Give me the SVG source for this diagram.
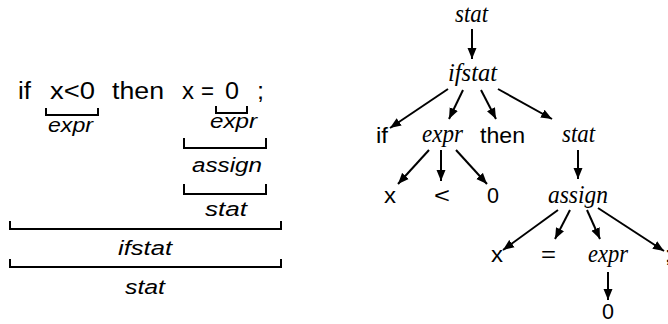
<svg xmlns="http://www.w3.org/2000/svg" width="668" height="324" viewBox="0 0 668 324">
<style>
.t{font-family:"Liberation Sans",Arial,sans-serif;font-size:23px;fill:#000}
.tr{font-family:"Liberation Sans",Arial,sans-serif;font-size:22px;fill:#000}
.lbl{font-family:"Liberation Sans",Arial,sans-serif;font-style:italic;font-size:20px;fill:#000}
.nt{font-family:"Liberation Serif","Times New Roman",serif;font-style:italic;font-size:25px;fill:#000}
.br{fill:none;stroke:#000;stroke-width:2}
.ed{fill:none;stroke:#000;stroke-width:2;marker-end:url(#ah)}
</style>
<defs>
<marker id="ah" markerUnits="userSpaceOnUse" markerWidth="12" markerHeight="10" refX="11" refY="5" orient="auto"><path d="M0,0.5 L11,5 L0,9.5 z" fill="#000"/></marker>
</defs>
<rect width="668" height="324" fill="#fff"/>
<g id="sentence">
<text class="t" x="18" y="99" textLength="13" lengthAdjust="spacingAndGlyphs">if</text>
<text class="t" x="50" y="99" textLength="45" lengthAdjust="spacingAndGlyphs">x&lt;0</text>
<text class="t" x="112" y="99" textLength="52" lengthAdjust="spacingAndGlyphs">then</text>
<text class="t" x="182" y="99" textLength="12" lengthAdjust="spacingAndGlyphs">x</text>
<text class="t" x="201" y="99" textLength="13" lengthAdjust="spacingAndGlyphs">=</text>
<text class="t" x="225" y="99" textLength="14" lengthAdjust="spacingAndGlyphs">0</text>
<text class="t" x="257" y="99" textLength="7" lengthAdjust="spacingAndGlyphs">;</text>
</g>
<g id="brackets">
<path class="br" d="M46,108 V115 H98 V108"/>
<path class="br" d="M216,106 V113 H247 V106"/>
<path class="br" d="M184,138 V148 H266 V138"/>
<path class="br" d="M184,184 V194 H266 V184"/>
<path class="br" d="M10,221 V229 H281 V221"/>
<path class="br" d="M10,259 V267 H281 V259"/>
</g>
<g id="bracket-labels">
<text class="lbl" x="48" y="132" textLength="45" lengthAdjust="spacingAndGlyphs">expr</text>
<text class="lbl" x="210" y="128" textLength="47" lengthAdjust="spacingAndGlyphs">expr</text>
<text class="lbl" x="192" y="172" textLength="70" lengthAdjust="spacingAndGlyphs">assign</text>
<text class="lbl" x="205" y="216" textLength="42" lengthAdjust="spacingAndGlyphs">stat</text>
<text class="lbl" x="118" y="255" textLength="54" lengthAdjust="spacingAndGlyphs">ifstat</text>
<text class="lbl" x="125" y="294" textLength="40" lengthAdjust="spacingAndGlyphs">stat</text>
</g>
<g id="n-stat"><text class="nt" x="455" y="22" textLength="33" lengthAdjust="spacingAndGlyphs">stat</text></g>
<g id="n-ifstat"><text class="nt" x="448" y="81" textLength="49" lengthAdjust="spacingAndGlyphs">ifstat</text></g>
<g id="n-if"><text class="tr" x="376" y="143" textLength="12" lengthAdjust="spacingAndGlyphs">if</text></g>
<g id="n-expr1"><text class="nt" x="422" y="142" textLength="41" lengthAdjust="spacingAndGlyphs">expr</text></g>
<g id="n-then"><text class="tr" x="480" y="143" textLength="45" lengthAdjust="spacingAndGlyphs">then</text></g>
<g id="n-stat2"><text class="nt" x="562" y="142" textLength="33" lengthAdjust="spacingAndGlyphs">stat</text></g>
<g id="n-x1"><text class="tr" x="384" y="203" textLength="12" lengthAdjust="spacingAndGlyphs">x</text></g>
<g id="n-lt"><text class="tr" x="434" y="203" textLength="16" lengthAdjust="spacingAndGlyphs">&lt;</text></g>
<g id="n-zero1"><text class="tr" x="487" y="203" textLength="12" lengthAdjust="spacingAndGlyphs">0</text></g>
<g id="n-assign"><text class="nt" x="548" y="203" textLength="60" lengthAdjust="spacingAndGlyphs">assign</text></g>
<g id="n-x2"><text class="tr" x="491" y="262" textLength="12" lengthAdjust="spacingAndGlyphs">x</text></g>
<g id="n-eq"><text class="tr" x="541" y="262" textLength="15" lengthAdjust="spacingAndGlyphs">=</text></g>
<g id="n-expr2"><text class="nt" x="588" y="262" textLength="40" lengthAdjust="spacingAndGlyphs">expr</text></g>
<g id="n-semi"><text class="tr" x="665" y="262">;</text></g>
<g id="n-zero2"><text class="tr" x="602" y="319" textLength="12" lengthAdjust="spacingAndGlyphs">0</text></g>
<g id="connectors">
<line class="ed" x1="472" y1="29" x2="472" y2="59"/>
<line class="ed" x1="448" y1="89" x2="390" y2="128"/>
<line class="ed" x1="463" y1="90" x2="449" y2="119"/>
<line class="ed" x1="481" y1="90" x2="496" y2="119"/>
<line class="ed" x1="498" y1="89" x2="552" y2="119"/>
<line class="ed" x1="429" y1="150" x2="398" y2="184"/>
<line class="ed" x1="441" y1="150" x2="441" y2="181"/>
<line class="ed" x1="456" y1="150" x2="487" y2="184"/>
<line class="ed" x1="578" y1="150" x2="578" y2="179"/>
<line class="ed" x1="558" y1="210" x2="503" y2="250"/>
<line class="ed" x1="570" y1="210" x2="555" y2="239"/>
<line class="ed" x1="587" y1="210" x2="600" y2="239"/>
<line class="ed" x1="598" y1="208" x2="664" y2="251"/>
<line class="ed" x1="608" y1="272" x2="608" y2="300"/>
</g>
</svg>
